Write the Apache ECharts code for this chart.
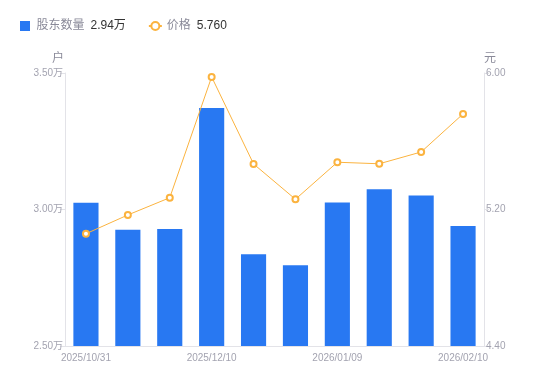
<!DOCTYPE html>
<html><head><meta charset="utf-8">
<script src="https://cdn.jsdelivr.net/npm/echarts@6/dist/echarts.min.js"></script>
<style>html,body{margin:0;padding:0;background:#fff}#c{width:550px;height:381px}</style>
</head><body><div id="c"></div>
<script>
var categories = ['2025/10/31','2025/11/10','2025/11/20','2025/12/10','2025/12/19','2025/12/31','2026/01/09','2026/01/20','2026/01/30','2026/02/10'];
var holders = [3.025, 2.926, 2.929, 3.372, 2.836, 2.796, 3.026, 3.074, 3.051, 2.94];
var prices = [5.058, 5.168, 5.269, 5.977, 5.467, 5.26, 5.477, 5.468, 5.537, 5.76];
var leftTicks = {min: 2.5, max: 3.5, interval: 0.5};
var rightTicks = {min: 4.4, max: 6.0, interval: 0.8};

var FONT = '"Liberation Sans", "Noto Sans CJK SC", sans-serif';
var chart = echarts.init(document.getElementById('c'), null, {renderer: 'canvas'});
var lastH = holders[holders.length - 1].toFixed(2) + '万';
var lastP = prices[prices.length - 1].toFixed(3);
chart.setOption({
  animation: false,
  textStyle: {fontFamily: FONT},
  legend: {
    left: 15, top: 15, itemGap: 22, itemWidth: 13, itemHeight: 10, symbolKeepAspect: true,
    data: [{name: '股东数量', icon: 'path://M0,0h10v10h-10z'}, {name: '价格'}],
    formatter: function (n) {
      return '{n|' + n + '}{v|' + (n === '股东数量' ? lastH : lastP) + '}';
    },
    textStyle: {
      fontFamily: FONT,
      rich: {
        n: {color: '#8a8a99', fontSize: 12, fontFamily: FONT, padding: [0, 6, 0, 0]},
        v: {color: '#333', fontSize: 12, fontFamily: FONT}
      }
    }
  },
  grid: {left: 65, right: 66, top: 73, bottom: 35},
  xAxis: {
    type: 'category', data: categories,
    axisLine: {lineStyle: {color: '#e3e3e8'}},
    axisTick: {show: false},
    axisLabel: {
      color: '#a3a3b0', fontSize: 10, margin: 7,
      interval: function (i) { return i === 0 || i === 3 || i === 6 || i === 9; }
    }
  },
  yAxis: [{
    type: 'value', min: leftTicks.min, max: leftTicks.max, interval: leftTicks.interval,
    name: '户', nameGap: 8, nameTextStyle: {color: '#8a8a99', fontSize: 12, align: 'right', padding: [0, 1, 0, 0]},
    axisLine: {show: true, lineStyle: {color: '#e3e3e8'}},
    axisTick: {show: true, length: 5, lineStyle: {color: '#e3e3e8'}},
    splitLine: {show: false},
    axisLabel: {color: '#a3a3b0', fontSize: 10, margin: 2, formatter: function (v) { return v.toFixed(2) + '万'; }}
  }, {
    type: 'value', min: rightTicks.min, max: rightTicks.max, interval: rightTicks.interval,
    name: '元', nameGap: 8, nameTextStyle: {color: '#8a8a99', fontSize: 12, align: 'left'},
    axisLine: {show: true, lineStyle: {color: '#e3e3e8'}},
    axisTick: {show: true, length: 5, lineStyle: {color: '#e3e3e8'}},
    splitLine: {show: false},
    axisLabel: {color: '#a3a3b0', fontSize: 10, margin: 2, formatter: function (v) { return v.toFixed(2); }}
  }],
  series: [{
    name: '股东数量', type: 'bar', yAxisIndex: 0, data: holders,
    barWidth: '60%', itemStyle: {color: '#2878f2'}
  }, {
    name: '价格', type: 'line', yAxisIndex: 1, data: prices,
    symbol: 'emptyCircle', symbolSize: 6,
    lineStyle: {color: '#fbb33f', width: 1},
    itemStyle: {color: '#fbb33f', borderWidth: 2}
  }]
});
</script></body></html>
